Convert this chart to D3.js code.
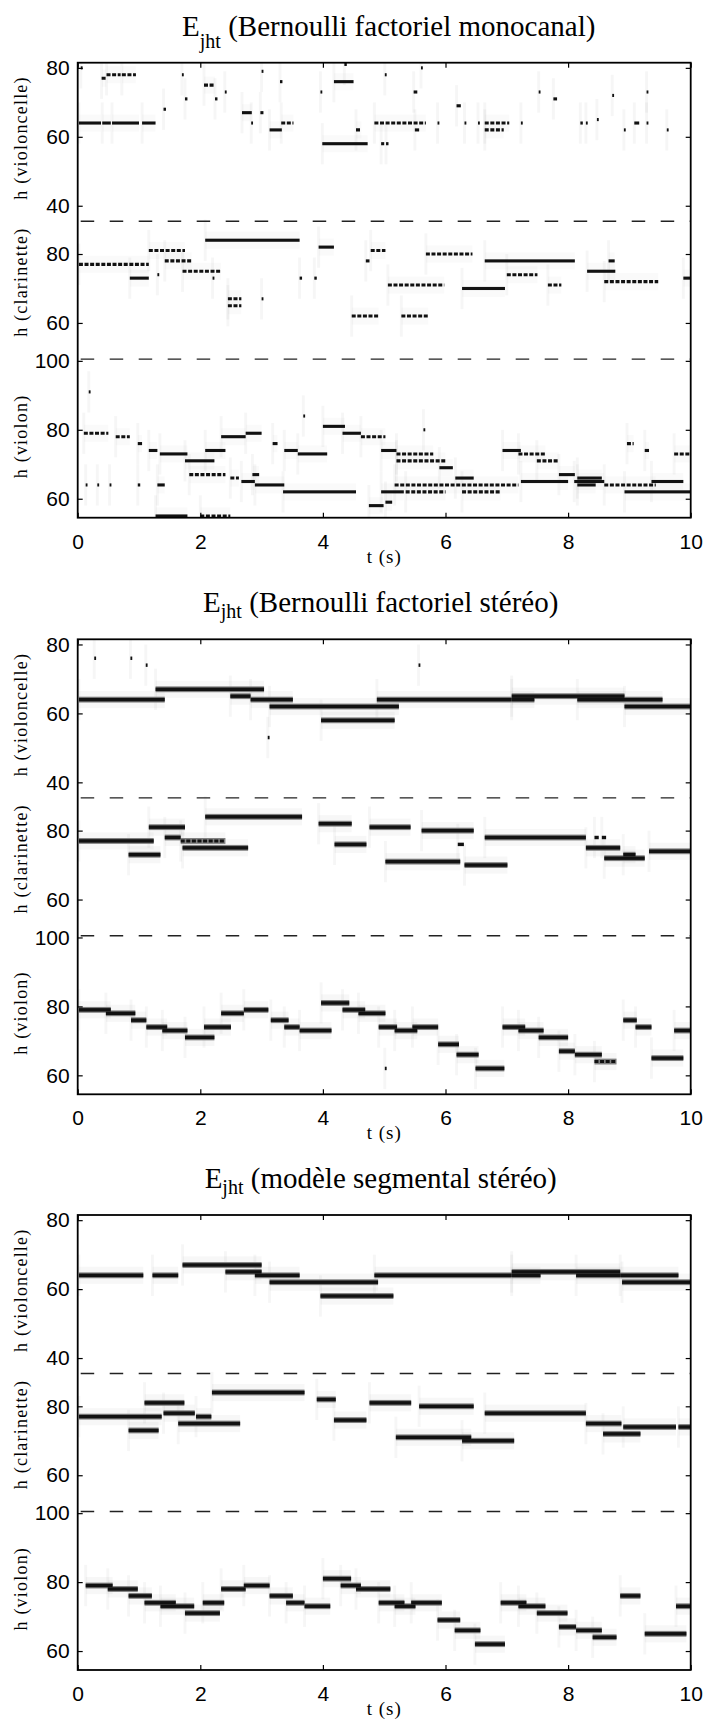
<!DOCTYPE html>
<html><head><meta charset="utf-8">
<script src="https://cdn.jsdelivr.net/npm/d3@7"></script>
<style>body{margin:0;background:#fff;} svg{display:block}</style>
</head><body>
<svg id="chart" width="705" height="1727"></svg>
<script>
// ---------------- DATA ----------------
// notes: [t start (s), t end (s), pitch h, kind]  kind 0 = solid, 1 = broken, 2 = small mark
const titles = ["Bernoulli factoriel monocanal", "Bernoulli factoriel stéréo", "modèle segmental stéréo"];
const instruments = ["violoncelle", "clarinette", "violon"];
const pitchLow  = [35.5, 49.5, 54.5];
const pitchHigh = [81.5, 89.5, 100.5];
const celloTicks = [40, 60, 80];
const clarTicks  = [60, 80];
const vlnTicks   = [60, 80, 100];
const timeTicks  = [0, 2, 4, 6, 8, 10];

const p1Cello = [
 [0.02,0.38,64,0],[0.40,0.54,64,0],[0.56,1.00,64,0],[1.05,1.27,64,0],
 [0.39,0.47,77,1],[0.47,0.70,78,1],[0.72,0.95,78,1],[0.05,0.08,80,2],
 [1.70,1.73,78,2],[1.40,1.44,68,2],[1.75,1.79,71,2],
 [2.06,2.24,75,1],[2.24,2.28,71,2],[2.40,2.43,73,2],
 [2.68,2.84,67,0],[2.98,3.03,67,2],[2.83,2.86,64,2],
 [3.00,3.03,79,2],[3.13,3.33,62,0],[3.32,3.52,64,1],[3.30,3.34,76,2],
 [3.96,3.99,73,2],[4.18,4.50,76,0],[4.35,4.39,81,2],
 [3.99,4.73,58,0],[4.95,5.00,58,2],[5.03,5.07,58,2],
 [4.54,4.63,62,1],[4.84,5.68,64,1],[5.48,5.54,73,2],[5.50,5.57,62,2],[5.01,5.04,78,2],[5.60,5.63,80,2],
 [5.87,5.90,64,2],[6.18,6.25,69,2],[6.31,6.34,64,2],[6.53,6.56,64,2],
 [6.64,7.04,64,1],[6.64,6.95,62,1],[7.23,7.26,64,2],[7.52,7.55,73,2],[7.76,7.82,71,2],
 [8.20,8.24,64,2],[8.29,8.32,64,2],[8.47,8.50,65,2],[8.72,8.75,72,2],
 [8.91,8.94,62,2],[9.08,9.16,64,2],[9.28,9.31,64,2],[9.28,9.31,73,2],[9.61,9.64,62,2]
];
const p1Clar = [
 [2.08,3.62,84,0],[3.93,4.18,82,0],[1.16,1.75,81,1],[4.78,5.02,81,1],[5.68,6.44,80,1],
 [6.64,8.11,78,0],[8.66,8.76,78,0],[1.42,1.86,78,1],[4.70,4.76,78,2],
 [0.02,1.16,77,1],[1.71,2.34,75,1],[8.31,8.77,75,0],
 [0.85,1.16,73,0],[9.88,10.0,73,0],[8.59,9.47,72,1],[5.06,5.98,71,1],[7.67,7.89,71,1],
 [6.27,6.97,70,0],[3.62,3.66,73,2],[3.86,3.90,73,2],[7.00,7.50,74,1],
 [2.45,2.67,67,1],[2.45,2.67,65,1],[3.00,3.03,67,2],[4.47,4.91,62,1],[5.28,5.72,62,1],
 [1.30,1.33,74,2],[2.20,2.23,73,2]
];
const p1Vln = [
 [0.10,0.50,79,1],[0.62,0.85,78,1],[0.98,1.05,76,0],
 [1.16,1.30,74,0],[1.34,1.79,73,0],[1.75,2.23,71,0],[1.82,2.41,67,1],
 [2.08,2.41,74,0],[2.34,2.74,78,0],[2.74,3.00,79,0],[2.49,2.63,66,1],[2.67,2.89,65,0],[2.85,2.96,67,0],[2.89,3.37,64,0],
 [3.18,3.26,76,0],[3.35,4.54,62,0],[3.37,3.59,74,0],[3.59,4.07,73,0],[3.68,3.71,84,2],
 [4.00,4.36,81,0],[4.32,4.62,79,0],[4.62,5.02,78,1],
 [4.75,4.99,58,0],[5.02,5.13,59,0],[4.95,5.32,62,0],[4.95,5.20,74,0],[5.20,5.80,73,1],[5.20,6.00,71,1],[5.35,6.00,62,1],
 [5.90,6.12,69,0],[6.16,6.46,66,0],[5.17,7.19,64,1],[6.27,6.90,62,1],[5.64,5.67,80,2],
 [6.93,7.23,74,0],[7.19,7.63,73,1],[7.49,7.85,71,1],[7.23,8.00,65,0],[7.85,8.11,67,0],
 [8.10,8.59,65,0],[8.15,8.55,66,0],[8.15,8.45,64,0],[8.59,9.43,64,1],[8.92,10.0,62,0],
 [8.96,9.07,76,1],[9.25,9.32,74,0],[9.36,9.88,65,0],[9.73,10.0,73,1],
 [0.13,0.16,64,2],[0.32,0.35,64,2],[0.52,0.55,64,2],[0.98,1.02,64,2],[1.30,1.42,64,0],
 [1.27,1.79,55,0],[2.00,2.49,55,1],[0.18,0.21,91,2]
];

const p2Cello = [
 [0.02,1.42,64,0],[1.27,3.04,67,0],[2.49,2.82,65,0],[2.82,3.51,64,0],[3.13,5.24,62,0],
 [3.97,5.17,58,0],[4.88,7.08,64,0],[7.08,8.92,65,0],[7.08,7.45,64,0],[8.15,9.54,64,0],[8.92,10.0,62,0],
 [0.27,0.30,76,2],[0.86,0.89,76,2],[1.11,1.14,74,2],[5.56,5.59,74,2],[3.10,3.13,53,2]
];
const p2Clar = [
 [2.08,3.66,84,0],[3.93,4.47,82,0],[1.16,1.75,81,0],[4.76,5.43,81,0],[5.61,6.46,80,0],
 [1.42,1.68,78,0],[6.64,8.29,78,0],[8.43,8.50,78,2],[8.55,8.62,78,2],
 [0.02,1.24,77,0],[1.68,2.41,77,1],[1.71,2.78,75,0],[4.19,4.71,76,0],[8.29,8.85,75,0],
 [0.83,1.35,73,0],[9.32,10.0,74,0],[8.90,9.10,73,0],[8.59,9.25,72,0],[5.02,6.24,71,0],[6.31,7.01,70,0],[6.20,6.30,76,2]
];
const p2Vln = [
 [3.97,4.43,81,0],[0.02,0.54,79,0],[2.71,3.11,79,0],[4.32,4.69,79,0],
 [0.46,0.94,78,0],[2.34,2.71,78,0],[4.58,5.02,78,0],
 [0.87,1.12,76,0],[3.15,3.44,76,0],[8.90,9.12,76,0],
 [1.12,1.46,74,0],[2.06,2.50,74,0],[3.37,3.62,74,0],[4.91,5.21,74,0],[5.46,5.88,74,0],[6.93,7.30,74,0],[9.10,9.36,74,0],
 [1.38,1.79,73,0],[3.62,4.14,73,0],[5.17,5.54,73,0],[7.19,7.60,73,0],[9.73,10.0,73,0],
 [1.75,2.23,71,0],[7.52,8.00,71,0],[5.88,6.22,69,0],[7.85,8.11,67,0],[6.18,6.54,66,0],[8.11,8.55,66,0],
 [9.36,9.88,65,0],[8.43,8.79,64,1],[6.49,6.96,62,0],[5.01,5.04,62,2]
];

const p3Cello = [
 [0.02,1.07,64,0],[1.22,1.64,64,0],[1.71,3.00,67,0],[2.41,3.00,65,0],[2.89,3.62,64,0],
 [3.13,4.90,62,0],[3.96,5.15,58,0],[4.84,7.08,64,0],[7.08,8.85,65,0],[7.08,7.55,64,0],
 [8.13,8.85,64,0],[8.85,9.80,64,0],[8.88,10.0,62,0]
];
const p3Clar = [
 [2.19,3.70,84,0],[3.90,4.21,82,0],[1.09,1.74,81,0],[4.76,5.44,81,0],[5.57,6.46,80,0],
 [1.40,1.91,78,0],[6.64,8.29,78,0],[0.02,1.37,77,0],[1.93,2.18,77,0],[4.18,4.71,76,0],
 [1.64,2.65,75,0],[8.29,8.87,75,0],[8.90,9.76,74,0],[9.80,10.0,74,0],[0.83,1.32,73,0],[8.57,9.18,72,0],
 [5.19,6.42,71,0],[6.27,7.12,70,0]
];
const p3Vln = [
 [4.00,4.46,81,0],[0.13,0.57,79,0],[2.71,3.13,79,0],[4.29,4.62,79,0],
 [0.49,0.98,78,0],[2.34,2.74,78,0],[4.54,5.10,78,0],
 [0.83,1.21,76,0],[3.13,3.51,76,0],[8.85,9.18,76,0],
 [1.09,1.60,74,0],[2.04,2.39,74,0],[3.40,3.70,74,0],[4.91,5.33,74,0],[5.44,5.94,74,0],[6.90,7.32,74,0],
 [1.35,1.90,73,0],[3.70,4.12,73,0],[5.17,5.51,73,0],[7.19,7.63,73,0],[9.76,10.0,73,0],
 [1.75,2.32,71,0],[7.49,7.99,71,0],[5.87,6.24,69,0],[7.85,8.13,67,0],[6.15,6.57,66,0],[8.13,8.55,66,0],
 [9.25,9.93,65,0],[8.40,8.79,64,0],[6.48,6.97,62,0]
];

const panels = [
  {title: titles[0], notes: [p1Cello, p1Clar, p1Vln], subDy: 12, halo: false, tx: 311},
  {title: titles[1], notes: [p2Cello, p2Clar, p2Vln], subDy: 6,  halo: true,  tx: 303},
  {title: titles[2], notes: [p3Cello, p3Clar, p3Vln], subDy: 6,  halo: true,  tx: 303}
];

// ---------------- LAYOUT ----------------
const plotLeft = 77.7, plotRight = 690.7;
const panelTops = [62.7, 639.3, 1215];
const panelH = 455;
const bandSize = pitchHigh.map((h, i) => h - pitchLow[i]);            // 46, 40, 46
const totalRows = d3.sum(bandSize);                                     // 132
const offsets = [bandSize[2] + bandSize[1], bandSize[2], 0];
const gval = (inst, p) => offsets[inst] + (p - pitchLow[inst]);
const labelShift = [-4, -8, -2];

const svg = d3.select("#chart");
const x = d3.scaleLinear().domain([0, 10]).range([0, plotRight - plotLeft]);
const y = d3.scaleLinear().domain([0, totalRows]).range([panelH, 0]);
const rowH = y(0) - y(1);

const serif = "'Liberation Serif','Times New Roman',serif";
const sans = "'Liberation Sans Narrow','Arial Narrow','Liberation Sans',Arial,sans-serif";

const tickList = [];
[celloTicks, clarTicks, vlnTicks].forEach((ts, inst) => ts.forEach(t => tickList.push({g: gval(inst, t), label: t})));
const tickVals = tickList.map(d => d.g);
const tickLab = new Map(tickList.map(d => [d.g, d.label]));

panels.forEach((P, pi) => {
  const g = svg.append("g").attr("transform", `translate(${plotLeft},${panelTops[pi]})`);
  const clipId = "clip" + pi;
  g.append("clipPath").attr("id", clipId).append("rect")
    .attr("width", x(10)).attr("height", panelH);
  const plot = g.append("g").attr("clip-path", `url(#${clipId})`);
  plot.append("rect").attr("width", x(10)).attr("height", panelH).attr("fill", "#fff");

  P.notes.forEach((arr, inst) => {
    plot.append("g").selectAll("rect").data(arr).join("rect")
      .attr("x", d => x(d[0]) - 1.5).attr("width", 3)
      .attr("y", d => y(gval(inst, d[2]) + 6)).attr("height", rowH * 12)
      .attr("fill", "#000").attr("opacity", 0.035);
    plot.append("g").selectAll("rect").data(arr.filter(d => d[3] !== 2)).join("rect")
      .attr("x", d => x(d[0])).attr("width", d => Math.max(1.5, x(d[1]) - x(d[0])))
      .attr("y", d => y(gval(inst, d[2]) + 2.5)).attr("height", rowH * 5)
      .attr("fill", "#000").attr("opacity", P.halo ? 0.03 : 0.02);
    if (P.halo) {
      plot.append("g").selectAll("rect").data(arr.filter(d => d[3] !== 2)).join("rect")
        .attr("x", d => x(d[0])).attr("width", d => Math.max(1.5, x(d[1]) - x(d[0])))
        .attr("y", d => y(gval(inst, d[2]) + 0.85)).attr("height", rowH * 1.7)
        .attr("fill", "#808080");
    }
    plot.append("g").selectAll("rect").data(arr.filter(d => d[3] !== 1)).join("rect")
      .attr("x", d => x(d[0])).attr("width", d => Math.max(1.5, x(d[1]) - x(d[0])))
      .attr("y", d => y(gval(inst, d[2]) + (P.halo ? 0.5 : 0.45))).attr("height", rowH * (P.halo ? 1.0 : 0.9))
      .attr("fill", "#111");
    plot.append("g").selectAll("line").data(arr.filter(d => d[3] === 1)).join("line")
      .attr("x1", d => x(d[0])).attr("x2", d => x(d[1]))
      .attr("y1", d => y(gval(inst, d[2]))).attr("y2", d => y(gval(inst, d[2])))
      .attr("stroke", "#111").attr("stroke-width", rowH * 0.9)
      .attr("stroke-dasharray", "4,1.6");
  });

  g.append("g").selectAll("line").data([offsets[0], offsets[1]]).join("line")
    .attr("x1", 3).attr("x2", x(10))
    .attr("y1", d => y(d)).attr("y2", d => y(d))
    .attr("stroke", "#222").attr("stroke-width", 1.4).attr("stroke-dasharray", "13.5,15.5");

  const axL = d3.axisLeft(y).tickValues(tickVals).tickFormat(d => tickLab.get(d))
    .tickSizeInner(-5).tickSizeOuter(0).tickPadding(8);
  const axR = d3.axisRight(y).tickValues(tickVals).tickFormat("").tickSizeInner(-5).tickSizeOuter(0);
  const axB = d3.axisBottom(x).tickValues(timeTicks).tickFormat(d3.format("d"))
    .tickSizeInner(-5).tickSizeOuter(0).tickPadding(16);
  const axT = d3.axisTop(x).tickValues(timeTicks).tickFormat("").tickSizeInner(-5).tickSizeOuter(0);

  const styleAxis = sel => {
    sel.select(".domain").remove();
    sel.selectAll("line").attr("stroke", "#000").attr("stroke-width", 1.2);
    sel.selectAll("text").attr("font-family", sans).attr("font-size", 21).attr("fill", "#000");
  };
  g.append("g").call(axL).call(styleAxis);
  g.append("g").attr("transform", `translate(${x(10)},0)`).call(axR).call(styleAxis);
  g.append("g").attr("transform", `translate(0,${panelH})`).call(axB).call(styleAxis);
  g.append("g").call(axT).call(styleAxis);

  g.append("rect").attr("width", x(10)).attr("height", panelH)
    .attr("fill", "none").attr("stroke", "#000").attr("stroke-width", 1.8);

  instruments.forEach((name, inst) => {
    const yc = (y(offsets[inst] + bandSize[inst]) + y(offsets[inst])) / 2 + labelShift[inst];
    g.append("text")
      .attr("transform", `translate(${27 - plotLeft},${yc}) rotate(-90)`)
      .attr("text-anchor", "middle")
      .attr("font-family", serif).attr("font-size", 18).attr("letter-spacing", 1.2)
      .text(`h (${name})`);
  });

  g.append("text").attr("x", x(5)).attr("y", panelH + 45)
    .attr("text-anchor", "middle").attr("font-family", serif).attr("font-size", 19).attr("letter-spacing", 1)
    .text("t (s)");

  const t = g.append("text").attr("x", P.tx).attr("y", -27)
    .attr("text-anchor", "middle").attr("font-family", serif).attr("font-size", 29);
  t.append("tspan").text("E");
  t.append("tspan").attr("font-size", 20).attr("dy", P.subDy).text("jht");
  t.append("tspan").attr("dy", -P.subDy).text(" (" + P.title + ")");
});
</script>
</body></html>
